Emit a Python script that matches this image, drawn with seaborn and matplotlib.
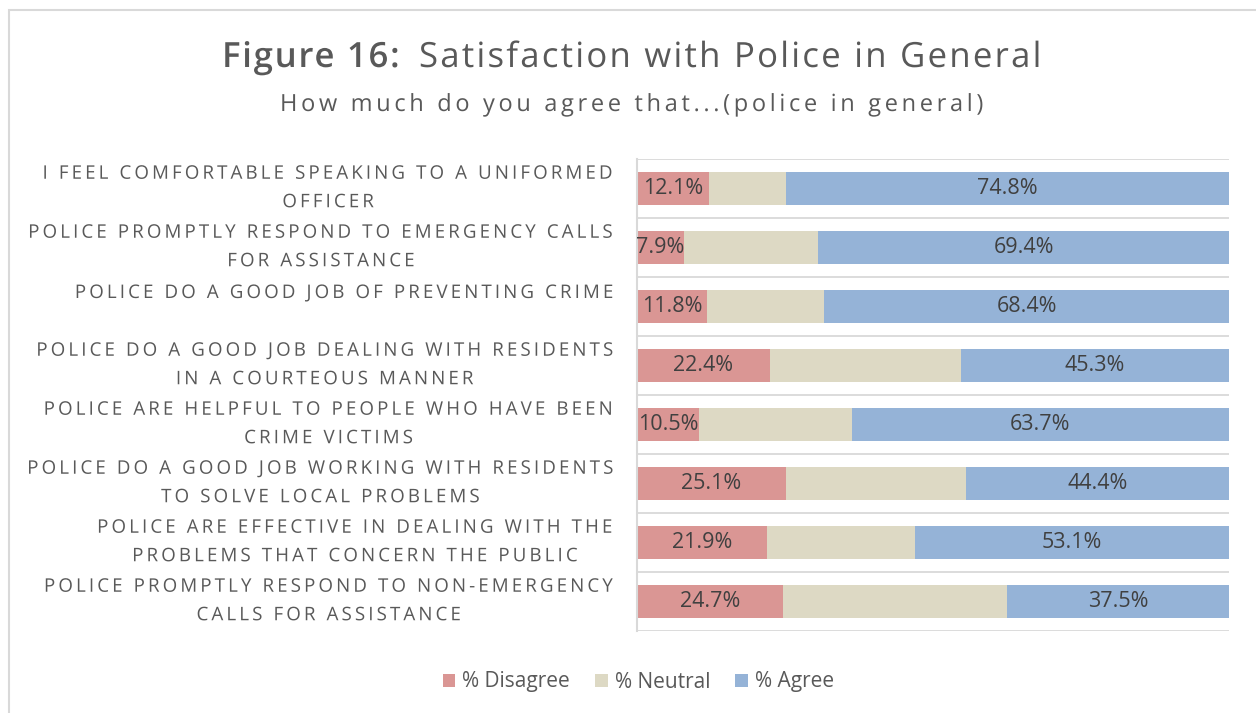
import matplotlib
matplotlib.use("Agg")
import matplotlib.pyplot as plt
import matplotlib.transforms as mtransforms
from matplotlib.patches import Rectangle, Patch
from matplotlib.patheffects import AbstractPathEffect
from matplotlib.textpath import TextToPath
from matplotlib.path import Path
import seaborn as sns
import pandas as pd

# Survey statements (top to bottom)
statements = [
    "I FEEL COMFORTABLE SPEAKING TO A UNIFORMED\nOFFICER",
    "POLICE PROMPTLY RESPOND TO EMERGENCY CALLS\nFOR ASSISTANCE",
    "POLICE DO A GOOD JOB OF PREVENTING CRIME",
    "POLICE DO A GOOD JOB DEALING WITH RESIDENTS\nIN A COURTEOUS MANNER",
    "POLICE ARE HELPFUL TO PEOPLE WHO HAVE BEEN\nCRIME VICTIMS",
    "POLICE DO A GOOD JOB WORKING WITH RESIDENTS\nTO SOLVE LOCAL PROBLEMS",
    "POLICE ARE EFFECTIVE IN DEALING WITH THE\nPROBLEMS THAT CONCERN THE PUBLIC",
    "POLICE PROMPTLY RESPOND TO NON-EMERGENCY\nCALLS FOR ASSISTANCE",
]
pct_disagree = [12.1, 7.9, 11.8, 22.4, 10.5, 25.1, 21.9, 24.7]
pct_neutral = [13.1, 22.7, 19.8, 32.3, 25.8, 30.5, 25.0, 37.8]
pct_agree = [74.8, 69.4, 68.4, 45.3, 63.7, 44.4, 53.1, 37.5]

series_names = ["% Disagree", "% Neutral", "% Agree"]
series_colors = ["#DA9694", "#DDD9C4", "#95B3D7"]

title_bold = "Figure 16:"
title_rest = "Satisfaction with Police in General"
subtitle = "How much do you agree that...(police in general)"

_t2p = TextToPath()


class LetterSpacing(AbstractPathEffect):
    """Adds extra space after every character (a fraction of the em size)."""

    def __init__(self, text, prop, spacing, align=0.0):
        super().__init__()
        self.units = spacing * TextToPath.FONT_SCALE
        self.align = align
        lines = text.split("\n")
        self.extra_max = self.units * (max(len(l) for l in lines) - 1)
        self.lines = {}
        for line in lines:
            if not line:
                continue
            bounds = [0]
            for k in range(1, len(line) + 1):
                verts, _ = _t2p.get_text_path(prop, line[:k])
                bounds.append(len(verts))
            self.lines[bounds[-1]] = (line, bounds)

    def draw_path(self, renderer, gc, tpath, affine, rgbFace=None):
        n = len(tpath.vertices)
        if n in self.lines:
            line, bounds = self.lines[n]
            verts = tpath.vertices.copy()
            for k in range(len(line)):
                verts[bounds[k]:bounds[k + 1], 0] += self.units * k
            extra = self.units * (len(line) - 1)
            verts[:, 0] += -self.align * self.extra_max + (self.extra_max - extra) / 2
            tpath = Path(verts, tpath.codes)
        renderer.draw_path(gc, tpath, affine, rgbFace)


def track(txt, spacing, align):
    txt.set_path_effects([LetterSpacing(txt.get_text(), txt.get_fontproperties(), spacing, align)])
    return txt


df = pd.DataFrame({
    "statement": statements,
    "disagree": pct_disagree,
    "neutral": pct_neutral,
    "agree": pct_agree,
})
df["cum_dis"] = df["disagree"]
df["cum_neu"] = df["disagree"] + df["neutral"]
df["cum_all"] = df["cum_neu"] + df["agree"]

sns.set_theme(style="white")
plt.rcParams["font.family"] = ["Open Sans", "DejaVu Sans"]

W, H = 1256, 713
fig = plt.figure(figsize=(W / 100, H / 100), dpi=100)
ax = fig.add_axes([637 / W, 1 - 631 / H, (1229 - 637) / W, (631 - 159) / H])

text_grey = "#595959"
grid_grey = "#D9D9D9"

# Stacked bars drawn back to front from cumulative totals
for col, color in zip(["cum_all", "cum_neu", "cum_dis"], series_colors[::-1]):
    sns.barplot(data=df, x=col, y="statement", order=statements, color=color,
                width=0.56, orient="h", ax=ax, saturation=1, linewidth=0)

ax.set_xlim(0, 100)
ax.set_ylim(len(statements) - 0.5, -0.5)
ax.set_xlabel("")
ax.set_ylabel("")
ax.set_xticks([])
ax.tick_params(axis="y", length=0, labelleft=False)

# Category separators
for b in range(len(statements) + 1):
    ax.axhline(b - 0.5, color=grid_grey, lw=1.3, zorder=0)

for side in ["top", "right", "bottom"]:
    ax.spines[side].set_visible(False)
ax.spines["left"].set_color(grid_grey)
ax.spines["left"].set_linewidth(1.5)

# Category labels, right-aligned beside the bars
for i, label in enumerate(statements):
    n_lines = label.count("\n") + 1
    dy = 0.5 if n_lines > 1 else 13.5
    trans = ax.get_yaxis_transform() + mtransforms.ScaledTranslation(-23 / 100, dy / 100,
                                                                     fig.dpi_scale_trans)
    t = ax.text(0, i, label, transform=trans, ha="right", va="center", multialignment="center",
                fontsize=13.5, color=text_grey, linespacing=1.75)
    track(t, 0.165, 1.0)

# Value labels for disagree and agree segments
for i, row in df.iterrows():
    ax.text(row["disagree"] / 2, i, f"{row['disagree']:.1f}%", ha="center", va="center",
            fontsize=15.5, color="#404040")
    ax.text(row["cum_neu"] + row["agree"] / 2, i, f"{row['agree']:.1f}%", ha="center",
            va="center", fontsize=15.5, color="#404040")

# Titles
t1 = fig.text(222 / W, 1 - 67 / H, title_bold, fontsize=25, fontweight="semibold",
              color=text_grey, ha="left", va="baseline")
track(t1, 0.05, 0.0)
t2 = fig.text(419 / W, 1 - 67 / H, title_rest, fontsize=25, color=text_grey,
              ha="left", va="baseline")
track(t2, 0.065, 0.0)
t3 = fig.text(280 / W, 1 - 111 / H, subtitle, fontsize=17, color=text_grey,
              ha="left", va="baseline")
track(t3, 0.155, 0.0)

# Legend
handles = [Patch(facecolor=c, edgecolor="none", label=n) for n, c in zip(series_names, series_colors)]
leg = fig.legend(handles=handles, loc="center", bbox_to_anchor=(638.5 / W, 1 - 682 / H), ncol=3,
                 frameon=False, fontsize=15, handlelength=0.6, handleheight=0.6,
                 handletextpad=0.35, columnspacing=1.2)
for t in leg.get_texts():
    t.set_color(text_grey)

# Chart-area border
fig.patches.append(Rectangle((8.5 / W, -0.1), 1.2, 1 - 10.5 / H + 0.1, transform=fig.transFigure,
                             fill=False, edgecolor=grid_grey, lw=1.5))

fig.savefig("out.png", dpi=100, facecolor="white")
